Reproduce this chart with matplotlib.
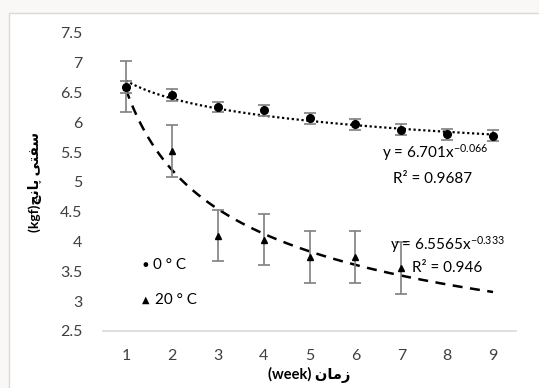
import numpy as np
import matplotlib
matplotlib.use('Agg')
import matplotlib.pyplot as plt
from matplotlib.patches import Rectangle

# data
weeks = [1, 2, 3, 4, 5, 6, 7, 8, 9]
cold_mean = [6.60, 6.46, 6.26, 6.20, 6.07, 5.97, 5.88, 5.80, 5.78]
cold_err = [0.10, 0.10, 0.09, 0.10, 0.09, 0.09, 0.09, 0.09, 0.09]
warm_weeks = [1, 2, 3, 4, 5, 6, 7]
warm_mean = [6.60, 5.52, 4.10, 4.03, 3.74, 3.74, 3.56]
warm_err = [0.43, 0.43, 0.43, 0.43, 0.44, 0.44, 0.44]

# power trendlines y = a * x^b
cold_fit = (6.701, -0.066)
warm_fit = (6.5565, -0.333)

yticks = [2.5, 3, 3.5, 4, 4.5, 5, 5.5, 6, 6.5, 7, 7.5]

plt.rcParams['font.family'] = ['Lato', 'DejaVu Sans']
plt.rcParams['mathtext.fontset'] = 'custom'
plt.rcParams['mathtext.rm'] = 'Lato'
plt.rcParams['mathtext.it'] = 'Lato'

fig = plt.figure(figsize=(5.39, 3.88), dpi=100, facecolor='#f9f8f6')
# white chart frame
fig.patches.append(Rectangle((9/539, -0.01), 1.0, 1 - 13/388 + 0.01, transform=fig.transFigure,
                             facecolor='white', edgecolor='#d9d9d9', linewidth=1.0, zorder=-10))

ax = fig.add_axes([103/539, 1 - 331/388, 413/539, 298/388])
ax.set_facecolor('none')

xs = np.linspace(1, 9, 200)
ax.plot(xs, cold_fit[0] * xs ** cold_fit[1], color='black', linestyle=(0, (1, 1.2)), linewidth=1.6)
ax.plot(xs, warm_fit[0] * xs ** warm_fit[1], color='black', linestyle=(0, (4, 3)), linewidth=1.8)

ax.errorbar(weeks, cold_mean, yerr=cold_err, fmt='o', color='black', markersize=5.5,
            ecolor='#7f7f7f', elinewidth=1.2, capsize=4.5, capthick=1.2)
ax.errorbar(warm_weeks, warm_mean, yerr=warm_err, fmt='^', color='black', markersize=5,
            ecolor='#7f7f7f', elinewidth=1.2, capsize=4.5, capthick=1.2)

ax.set_xlim(0.5, 9.5)
ax.set_ylim(2.5, 7.5)
ax.set_xticks(weeks)
ax.set_yticks(yticks)
ax.set_yticklabels([f'{t:g}' for t in yticks])
ax.tick_params(length=0, labelsize=11.5, colors='#404040')
ax.tick_params(axis='x', pad=13)
ax.tick_params(axis='y', pad=15)
for s in ['top', 'right', 'left']:
    ax.spines[s].set_visible(False)
ax.spines['bottom'].set_color('#d9d9d9')
ax.spines['bottom'].set_linewidth(1.2)

# labels (Persian written in presentation forms, visual order)
ax.set_xlabel('(week) \uFEE5\uFE8E\uFEE3\uFEAF', fontsize=10.5, fontweight='bold', labelpad=3)
ax.set_ylabel('(kgf)\uFB7B\uFEE7\uFE8E\uFB58 \uFEF0\uFE98\uFED4\uFEB3', fontsize=10,
              fontweight='bold', labelpad=13)

# series labels inside plot
ax.text(0.102, 0.221, '\u25CF', transform=ax.transAxes, fontsize=7, ha='center', va='center')
ax.text(0.121, 0.221, '0 \u00B0 C', transform=ax.transAxes, fontsize=11, va='center')
ax.text(0.104, 0.104, '\u25B2', transform=ax.transAxes, fontsize=7, ha='center', va='center')
ax.text(0.126, 0.104, '20 \u00B0 C', transform=ax.transAxes, fontsize=11, va='center')

# trendline equations
ax.text(435/413 - 103/413, (331 - 153)/298, r'y = %gx$^{%g}$' % cold_fit, transform=ax.transAxes,
        fontsize=11, ha='center', va='center')
ax.text(433/413 - 103/413, (331 - 179)/298, 'R\u00B2 = 0.9687', transform=ax.transAxes,
        fontsize=11, ha='center', va='center')
ax.text(447/413 - 103/413, (331 - 245)/298, r'y = %gx$^{%g}$' % warm_fit, transform=ax.transAxes,
        fontsize=11, ha='center', va='center')
ax.text(447/413 - 103/413, (331 - 268)/298, 'R\u00B2 = 0.946', transform=ax.transAxes,
        fontsize=11, ha='center', va='center')

plt.savefig('out.png', dpi=100, facecolor=fig.get_facecolor())
